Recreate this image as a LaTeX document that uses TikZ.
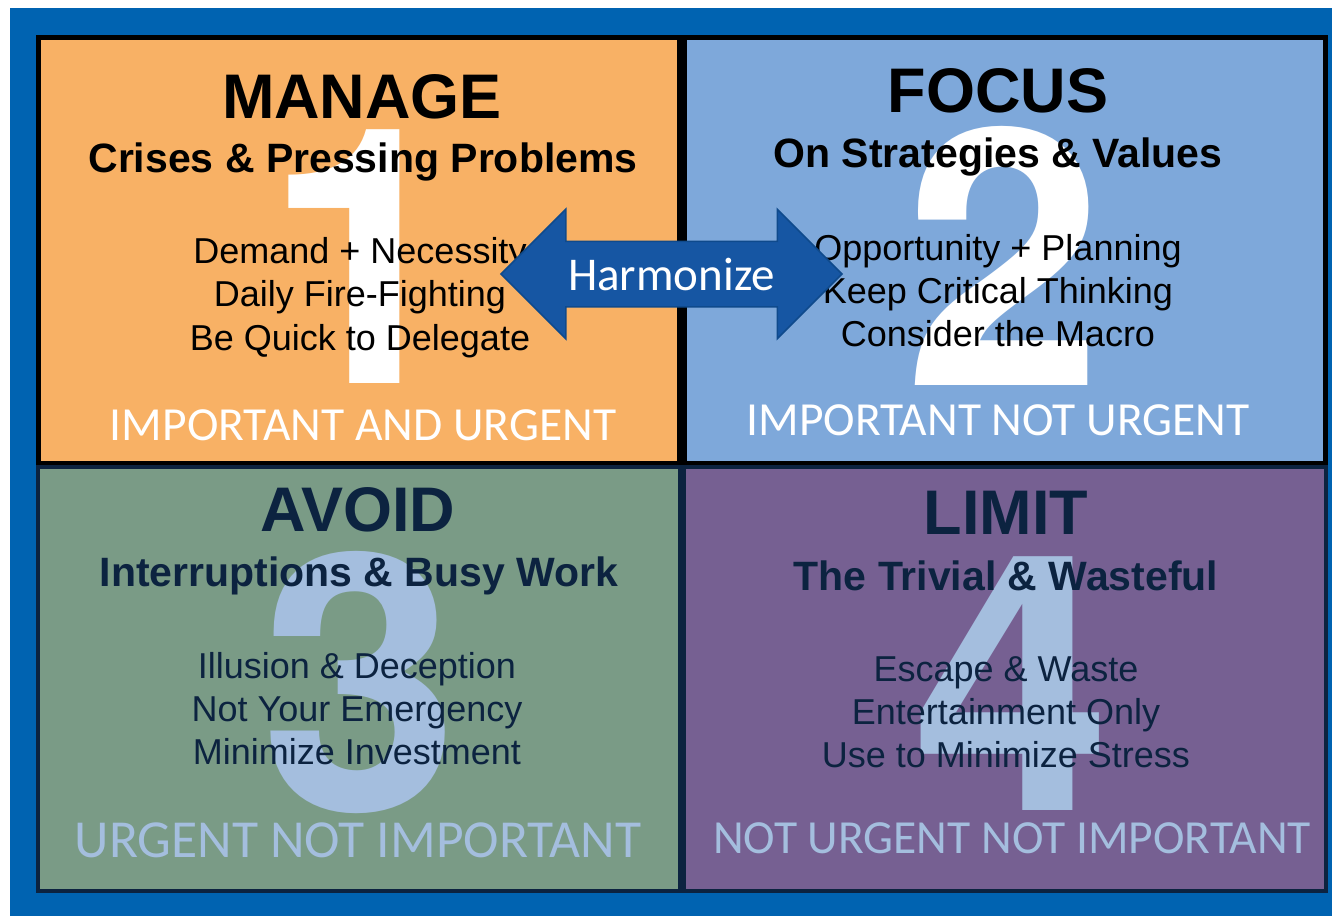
\documentclass[tikz,border=0pt]{standalone}
\usepackage{xcolor}
\usepackage{fontspec}
\setmainfont{Liberation Sans}
\newfontfamily\calibri{Carlito}
\newfontfamily\heros{TeX Gyre Heros}
\usepackage{tikz}
\usetikzlibrary{positioning,shapes.arrows}

\definecolor{frameblue}{HTML}{0063B1}
\definecolor{urgorange}{HTML}{F8B165}
\definecolor{planblue}{HTML}{7EA8DA}
\definecolor{busygreen}{HTML}{7A9B86}
\definecolor{wastepurple}{HTML}{766092}
\definecolor{navy}{HTML}{0C2340}
\definecolor{paleblue}{HTML}{A4BEDE}
\definecolor{arrowblue}{HTML}{1656A3}
\definecolor{arrowedge}{HTML}{0F4A8C}

\begin{document}
\begin{tikzpicture}[x=1pt,y=-1pt]

\tikzstyle{every node}=[inner sep=0pt]
\tikzstyle{digit}=[anchor=base, font=\heros\bfseries\fontsize{358}{358}\selectfont]
\tikzstyle{title}=[anchor=base, font=\bfseries\fontsize{63}{63}\selectfont]
\tikzstyle{subtitle}=[anchor=base, font=\bfseries\fontsize{41}{41}\selectfont]
\tikzstyle{body}=[anchor=base, font=\fontsize{36}{36}\selectfont]
\tikzstyle{tag}=[anchor=base, font=\calibri\fontsize{47.5}{47.5}\selectfont]

% frame %
\fill[white] (0,0) rectangle (1332,916);
\fill[frameblue] (10,8) rectangle (1332,916);

% quadrants %
\draw[line width=5, fill=urgorange] (38.5,37.5) rectangle (679.5,463.5);
\draw[line width=5, fill=planblue] (684.5,37.5) rectangle (1325.5,463.5);
\draw[line width=4, draw=navy, fill=busygreen] (38,467) rectangle (680,891);
\draw[line width=4, draw=navy, fill=wastepurple] (684,467) rectangle (1326,891);

% numbers %
\node[digit, white] (one) at (364,383) {1};
\node[digit, white] (two) at (1004,385) {2};
\node[digit, paleblue] (three) at (360,810) {3};
\node[digit, paleblue] (four) at (1012,810) {4};

% important and urgent %
\node[title] (manage) at (362,118) {MANAGE};
\node[subtitle] (crises) at (363,172) {Crises \& Pressing Problems};
\node[body] (q1a) at (360,263) {Demand + Necessity};
\node[body, below=43.5pt of q1a.base, anchor=base] (q1b) {Daily Fire-Fighting};
\node[body, below=43.5pt of q1b.base, anchor=base] (q1c) {Be Quick to Delegate};
\node[tag, white] (q1tag) at (363,440) {IMPORTANT AND URGENT};

% important not urgent %
\node[title] (focus) at (998,112) {FOCUS};
\node[subtitle] (strat) at (998,167) {On Strategies \& Values};
\node[body] (q2a) at (998,260) {Opportunity + Planning};
\node[body, below=43pt of q2a.base, anchor=base] (q2b) {Keep Critical Thinking};
\node[body, below=43pt of q2b.base, anchor=base] (q2c) {Consider the Macro};
\node[tag, white] (q2tag) at (998,435) {IMPORTANT NOT URGENT};

% urgent not important %
\node[title, navy] (avoid) at (358,531) {AVOID};
\node[subtitle, navy] (interr) at (359,586) {Interruptions \& Busy Work};
\node[body, navy] (q3a) at (357,678) {Illusion \& Deception};
\node[body, navy, below=43pt of q3a.base, anchor=base] (q3b) {Not Your Emergency};
\node[body, navy, below=43pt of q3b.base, anchor=base] (q3c) {Minimize Investment};
\node[tag, paleblue, font=\calibri\fontsize{53.5}{53.5}\selectfont] (q3tag) at (358,857) {URGENT NOT IMPORTANT};

% not urgent not important %
\node[title, navy] (limit) at (1006,534) {LIMIT};
\node[subtitle, navy] (trivial) at (1006,590) {The Trivial \& Wasteful};
\node[body, navy] (q4a) at (1006,681) {Escape \& Waste};
\node[body, navy, below=43pt of q4a.base, anchor=base] (q4b) {Entertainment Only};
\node[body, navy, below=43pt of q4b.base, anchor=base] (q4c) {Use to Minimize Stress};
\node[tag, paleblue] (q4tag) at (1012,853) {NOT URGENT NOT IMPORTANT};

% harmonize arrow %
\node[double arrow, fill=arrowblue, draw=arrowedge, line width=1.5,
      minimum height=341pt, minimum width=0pt,
      double arrow head extend=32pt, double arrow tip angle=90,
      inner xsep=0pt, inner ysep=15.5pt, text height=33pt, text depth=0pt,
      text=white, font=\calibri\fontsize{47}{47}\selectfont]
      (harmonize) at (671.5,274) {Harmonize};

\end{tikzpicture}
\end{document}
